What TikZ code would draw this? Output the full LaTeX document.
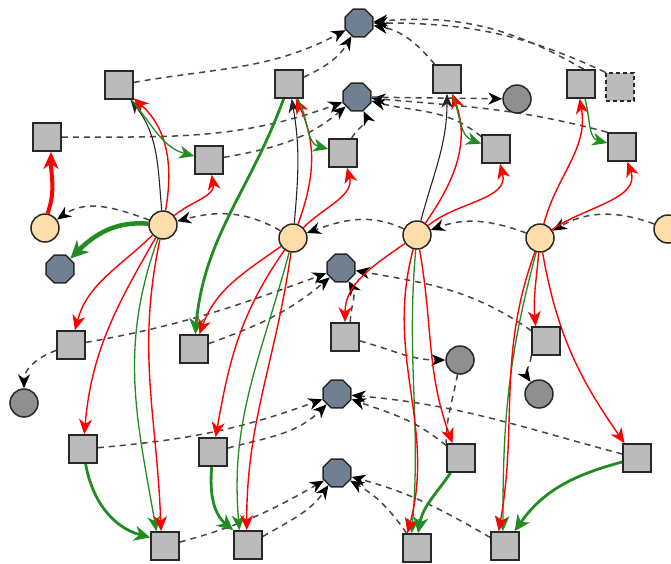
\documentclass[tikz,border=0pt]{standalone}
\usetikzlibrary{arrows.meta,shapes.geometric,backgrounds}
\definecolor{sqfill}{RGB}{187,187,187}
\definecolor{peach}{RGB}{254,221,170}
\definecolor{slate}{RGB}{112,128,144}
\definecolor{dgray}{RGB}{143,143,143}
\definecolor{fgreen}{RGB}{34,139,34}
\definecolor{edgegray}{RGB}{70,70,70}
\definecolor{rim}{RGB}{40,40,40}
\begin{document}
\begin{tikzpicture}[x=1pt,y=1pt,
  sq/.style={rectangle,draw=rim,fill=sqfill,line width=1.6pt,minimum size=28pt,inner sep=0pt},
  tan/.style={circle,draw=rim,fill=peach,line width=1.5pt,minimum size=28pt,inner sep=0pt},
  oct/.style={regular polygon,regular polygon sides=8,draw=rim,fill=slate,line width=1.5pt,minimum size=30pt,inner sep=0pt},
  gc/.style={circle,draw=rim,fill=dgray,line width=1.5pt,minimum size=28pt,inner sep=0pt},
  dsh/.style={draw=edgegray,line width=1.5pt,dash pattern=on 6pt off 5pt,
    -{Stealth[length=14pt,width=12pt,inset=4.5pt,black]}},
  rd/.style={draw=red,line width=1.4pt,-{Stealth[length=15pt,width=13pt,inset=4.5pt]}},
  rdthick/.style={draw=red,line width=4pt,-{Stealth[length=17pt,width=15pt,inset=5pt]}},
  gr/.style={draw=fgreen,line width=1.3pt,-{Stealth[length=15pt,width=13pt,inset=4.5pt]}},
  grmid/.style={draw=fgreen,line width=2.8pt,-{Stealth[length=16pt,width=15pt,inset=5pt]}},
  grthick/.style={draw=fgreen,line width=4.5pt,-{Stealth[length=18pt,width=17pt,inset=5.5pt]}},
  bk/.style={draw=black!85,line width=1.1pt,-{Stealth[length=14pt,width=11pt,inset=4.5pt]}}
]
\useasboundingbox (0,0) rectangle (671,-563);
\clip (0,0) rectangle (671,-563);

% tan circles
\node[tan] (C0) at (45,-228) {};
\node[tan] (C1) at (163,-225) {};
\node[tan] (C2) at (293,-238) {};
\node[tan] (C3) at (417,-235) {};
\node[tan] (C4) at (540,-238) {};
\node[tan] (C5) at (668,-229) {};

% octagons
\node[oct] (O1) at (359,-23) {};
\node[oct] (O2) at (357,-97) {};
\node[oct] (O3) at (60,-269) {};
\node[oct] (O4) at (341,-268) {};
\node[oct] (O5) at (337,-394) {};
\node[oct] (O6) at (337,-473) {};

% dark gray circles
\node[gc] (G1) at (517,-99) {};
\node[gc] (G2) at (24,-403) {};
\node[gc] (G3) at (460,-360) {};
\node[gc] (G4) at (539,-394) {};

% squares
\node[sq] (S1) at (119,-85) {};
\node[sq] (S2) at (47,-137) {};
\node[sq] (S3) at (209,-160) {};
\node[sq] (S4) at (289,-84) {};
\node[sq] (S5) at (343,-153) {};
\node[sq] (S6) at (447,-79) {};
\node[sq] (S7) at (496,-149) {};
\node[sq] (S8) at (581,-84) {};
\node[sq,dash pattern=on 4pt off 3pt] (S9) at (620,-87) {};
\node[sq] (S10) at (622,-147) {};
\node[sq] (S11) at (71,-345) {};
\node[sq] (S12) at (194,-349) {};
\node[sq] (S13) at (345,-337) {};
\node[sq] (S14) at (546,-341) {};
\node[sq] (S15) at (83,-449) {};
\node[sq] (S16) at (213,-452) {};
\node[sq] (S17) at (461,-458) {};
\node[sq] (S18) at (637,-458) {};
\node[sq] (S19) at (165,-546) {};
\node[sq] (S20) at (248,-545) {};
\node[sq] (S21) at (417,-548) {};
\node[sq] (S22) at (505,-546) {};

\begin{scope}[on background layer]
% dashed links
\draw[dsh] (S1) to[out=10,in=208] (O1);
\draw[dsh] (S4) to[out=25,in=240] (O1);
\draw[dsh] (S6) to[out=130,in=-10] (O1);
\draw[dsh] (S8.80) to[out=150,in=5] (O1);
\draw[dsh] (S9.north west) to[out=155,in=0] (O1);
\draw[dsh] (S2) to[out=0,in=200] (O2);
\draw[dsh] (S3) to[out=10,in=220] (O2);
\draw[dsh] (S5) to[out=60,in=-65] (O2);
\draw[dsh] (S7) to[out=140,in=-15] (O2);
\draw[dsh] (S10.north west) to[out=165,in=-5] (O2);
\draw[dsh] (O2) -- (G1);
\draw[dsh] (C1) to[out=160,in=35] (C0);
\draw[dsh] (C2) to[out=150,in=15] (C1);
\draw[dsh] (C3) to[out=155,in=20] (C2);
\draw[dsh] (C4) to[out=160,in=20] (C3);
\draw[dsh] (C5) to[out=160,in=30] (C4);
\draw[dsh] (S11) to[out=10,in=200] (O4);
\draw[dsh] (S12) to[out=20,in=220] (O4);
\draw[dsh] (S13.70) to[out=90,in=-60] (O4);
\draw[dsh] (S14) to[out=145,in=-10] (O4);
\draw[dsh] (S11) to[out=200,in=90] (G2);
\draw[dsh] (S13) to[out=-15,in=180] (G3);
\draw[dsh,-] (G3) to[out=-100,in=90] (S17.north west);
\draw[dsh] (S14.south west) to[out=-95,in=125] (G4);
\draw[dsh] (S15) to[out=5,in=200] (O5);
\draw[dsh] (S16) to[out=15,in=225] (O5);
\draw[dsh] (S17) to[out=140,in=-20] (O5);
\draw[dsh] (S18) to[out=165,in=-5] (O5);
\draw[dsh] (S19) to[out=15,in=210] (O6);
\draw[dsh] (S20) to[out=30,in=235] (O6);
\draw[dsh] (S21) to[out=125,in=-30] (O6);
\draw[dsh] (S22) to[out=150,in=-15] (O6);

% first column
\draw[rdthick] (C0.80) to[out=70,in=-90] (S2.-75);
\draw[grthick] (C1) to[out=175,in=45] (O3);
\draw[bk] (C1) to[out=95,in=-52] (S1);
\draw[rd] (C1) to[out=80,in=-42] (S1);
\draw[gr] (S1) to[out=-50,in=165] (S3);
\draw[rd] (C1) to[out=40,in=-80] (S3);
\draw[rd] (C1) to[out=224,in=75] (S11);
\draw[rd] (C1) to[out=240,in=85] (S15);
\draw[gr] (C1) to[out=250,in=100] (S19.120);
\draw[rd] (C1) to[out=258,in=92] (S19.105);
\draw[grmid] (S15) to[out=-80,in=165] (S19.150);

% second column
\draw[grmid] (S4) to[out=250,in=85] (S12);
\draw[rd] (C2) to[out=215,in=70] (S12);
\draw[bk] (C2) to[out=85,in=-80] (S4);
\draw[rd] (C2) to[out=70,in=-65] (S4);
\draw[gr] (S4) to[out=-60,in=165] (S5);
\draw[rd] (C2) to[out=45,in=-75] (S5);
\draw[rd] (C2) to[out=235,in=80] (S16);
\draw[gr] (C2) to[out=255,in=95] (S20.120);
\draw[rd] (C2) to[out=262,in=90] (S20.95);
\draw[grmid] (S16) to[out=-95,in=140] (S20.north west);

% third column
\draw[bk] (C3) to[out=75,in=-90] (S6);
\draw[rd] (C3) to[out=55,in=-70] (S6);
\draw[gr] (S6) to[out=-70,in=160] (S7);
\draw[rd] (C3) to[out=40,in=-75] (S7);
\draw[rd] (C3) to[out=215,in=90] (S13);
\draw[rd] (C3) to[out=-80,in=110] (S17.120);
\draw[gr] (C3) to[out=-95,in=85] (S21.110);
\draw[rd] (C3) to[out=-105,in=75] (S21.123);
\draw[grmid] (S17) to[out=-125,in=80] (S21.86);

% fourth column
\draw[rd] (C4) to[out=75,in=-80] (S8.-95);
\draw[gr] (S8) to[out=-75,in=165] (S10);
\draw[rd] (C4) to[out=35,in=-70] (S10);
\draw[rd] (C4) to[out=-95,in=95] (S14.125);
\draw[rd] (C4) to[out=-80,in=125] (S18.130);
\draw[gr] (C4) to[out=-105,in=90] (S22.98);
\draw[rd] (C4) to[out=-110,in=80] (S22.113);
\draw[grmid] (S18) to[out=195,in=55] (S22.57);
\end{scope}
\end{tikzpicture}
\end{document}
